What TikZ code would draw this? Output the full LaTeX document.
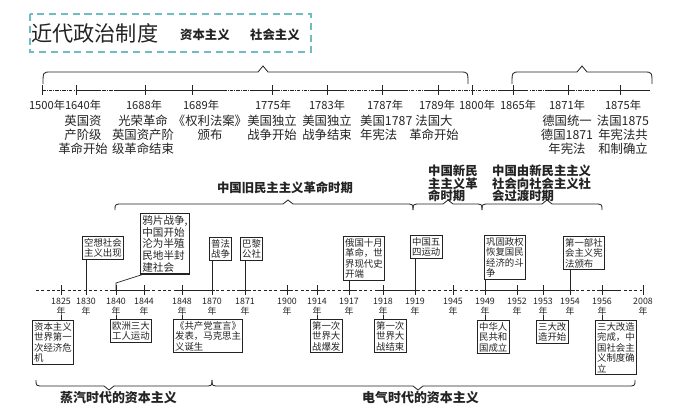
\documentclass[tikz,border=0pt]{standalone}
\usepackage{fontspec}
\setmainfont{Noto Sans CJK SC}
\definecolor{boxteal}{RGB}{112,188,194}
\definecolor{ink}{RGB}{35,35,35}
% brace: x1, xpeak, x2, y, y of ends, y of peak
\newcommand{\drawbrace}[6]{%
  \draw[line width=0.7pt, ink] (#1,#5) .. controls (#1,#4) .. (#1+8,#4) -- (#2-5,#4) -- (#2,#6) -- (#2+5,#4) -- (#3-8,#4) .. controls (#3,#4) .. (#3,#5);}

\begin{document}
\begin{tikzpicture}[x=0.85pt, y=-0.85pt,
    topyr/.style={inner sep=0pt, font=\fontsize{9.5}{10}\selectfont, ink},
    evtext/.style={inner sep=0pt, align=center, font=\fontsize{10.5}{12}\selectfont, ink},
    lowyr/.style={inner sep=0pt, align=center, font=\fontsize{7.5}{8}\selectfont, ink},
    evbox/.style={draw=ink, line width=0.6pt, inner sep=1.5pt, align=left, font=\fontsize{8}{9}\selectfont, ink},
    period/.style={inner sep=0pt, align=left, font=\fontsize{10.5}{10.5}\selectfont\bfseries, ink},
    link/.style={line width=0.6pt, ink}]
    \useasboundingbox (0,0) rectangle (690,419);

    % Title block
    \draw[boxteal, line width=1.2pt, dash pattern=on 6pt off 4pt] (30,14) rectangle (311,52);
    \node[anchor=west, inner sep=0pt, font=\fontsize{18}{18}\selectfont, ink] (title) at (31,33) {近代政治制度};
    \node[anchor=west, inner sep=0pt, font=\fontsize{10.5}{10.5}\selectfont\bfseries, ink] (capital) at (180,35) {资本主义};
    \node[anchor=west, inner sep=0pt, font=\fontsize{10.5}{10.5}\selectfont\bfseries, ink] (social) at (250,35) {社会主义};

    % Top braces
    \drawbrace{43}{263}{468}{72}{84}{66}
    \drawbrace{512}{582}{652}{72}{84}{66}

    % Top time line
    \draw[line width=0.7pt, ink, densely dash dot] (42,90) -- (650,90);
    \foreach \a/\b in {76/100, 115/227, 253/280, 310/345, 375/405, 425/450, 500/525, 548/575, 600/650}
        \draw[line width=0.7pt, ink] (\a,90) -- (\b,90);
    \foreach \x/\lx/\n in {42/47/1500, 76/83/1640, 145/144/1688, 192/201/1689, 272/273/1775, 327/327/1783,
                           382/385/1787, 438/437/1789, 472/477/1800, 513/518/1865, 568/567/1871, 620/623/1875} {
        \coordinate (a\n) at (\x,90);
        \draw[line width=0.7pt, ink] (\x,85) -- (\x,95);
        \node[topyr] (ty\n) at (\lx,105) {{\n}年};
    }

    % Top events
    \node[evtext, anchor=north] (e1640) at (83,115) {英国资\\产阶级\\革命开始};
    \node[evtext, anchor=north] (e1688) at (143,115) {光荣革命\\英国资产阶\\级革命结束};
    \node[evtext, anchor=north] (e1689) at (210,115) {《权利法案》\\颁布};
    \node[evtext, anchor=north] (e1775) at (272,115) {美国独立\\战争开始};
    \node[evtext, anchor=north] (e1783) at (327,115) {美国独立\\战争结束};
    \node[evtext, anchor=north west, align=left] (e1787) at (360,115) {美国1787\\年宪法};
    \node[evtext, anchor=north] (e1789) at (434,115) {法国大\\革命开始};
    \node[evtext, anchor=north] (e1871) at (567,115) {德国统一\\德国1871\\年宪法};
    \node[evtext, anchor=north] (e1875) at (623,115) {法国1875\\年宪法共\\和制确立};

    % Periods of China
    \node[period] (p1) at (285,188) {中国旧民主主义革命时期};
    \node[period, anchor=north west] (p2) at (428,165) {中国新民\\主主义革\\命时期};
    \node[period, anchor=north west] (p3) at (492,165) {中国由新民主主义\\社会向社会主义社\\会过渡时期};
    \drawbrace{115}{288}{413}{204}{210}{200}
    \drawbrace{413}{448}{482}{204}{210}{200}
    \drawbrace{482}{547}{602}{204}{210}{200}

    % Lower time line
    \draw[line width=0.7pt, ink, dash pattern=on 2.5pt off 2pt] (36,290) -- (643,290);
    \foreach \a/\b in {110/150, 176/215, 240/250, 282/292, 312/322, 344/354, 376/420, 480/575, 597/620}
        \draw[line width=0.7pt, ink] (\a,290) -- (\b,290);
    \foreach \x/\n in {61/1825, 86/1830, 116/1840, 144/1844, 182/1848, 212/1870, 245/1871, 287/1900, 317/1914,
                       349/1917, 383/1918, 415/1919, 453/1945, 485/1949, 517/1952, 543/1953, 570/1954, 602/1956, 643/2008} {
        \coordinate (t\n) at (\x,290);
        \draw[line width=0.7pt, ink] (\x,285) -- (\x,295);
        \node[lowyr] (y\n) at (\x,306.5) {{\n}\\年};
    }

    % Events above the lower line
    \node[evbox, anchor=north west] (u1830) at (82,236) {空想社会\\主义出现};
    \node[evbox, anchor=north west, line width=1pt, font=\fontsize{9}{10}\selectfont] (u1840) at (140,213) {鸦片战争,\\中国开始\\沦为半殖\\民地半封\\建社会};
    \node[evbox, anchor=north west] (u1870) at (209,237) {普法\\战争};
    \node[evbox, anchor=north west] (u1871) at (240,237) {巴黎\\公社};
    \node[evbox, anchor=north west] (u1917) at (343,236) {俄国十月\\革命，世\\界现代史\\开端};
    \node[evbox, anchor=north west] (u1919) at (410,235) {中国五\\四运动};
    \node[evbox, anchor=north west] (u1949) at (484,235) {巩固政权\\恢复国民\\经济的斗\\争};
    \node[evbox, anchor=north west] (u1954) at (563,236) {第一部社\\会主义宪\\法颁布};

    \coordinate (k1840) at (116,283);
    \draw[link] ([xshift=2pt]u1840.south west) -- (k1840) -- (t1840);
    \foreach \n in {1830, 1870, 1871, 1917, 1919, 1949, 1954}
        \draw[link] (t\n |- u\n.south) -- (t\n);

    % Events below the lower line
    \node[evbox, anchor=north west] (b1825) at (32,320) {资本主义\\世界第一\\次经济危\\机};
    \node[evbox, anchor=north west] (b1840) at (110,319) {欧洲三大\\工人运动};
    \node[evbox, anchor=north west] (b1848) at (173,319) {《共产党宣言》\\发表，马克思主\\义诞生};
    \node[evbox, anchor=north west] (b1914) at (310,319) {第一次\\世界大\\战爆发};
    \node[evbox, anchor=north west] (b1918) at (374,319) {第一次\\世界大\\战结束};
    \node[evbox, anchor=north west] (b1949) at (477,320) {中华人\\民共和\\国成立};
    \node[evbox, anchor=north west] (b1953) at (536,320) {三大改\\造开始};
    \node[evbox, anchor=north west] (b1956) at (595,320) {三大改造\\完成，中\\国社会主\\义制度确\\立};

    \foreach \n in {1825, 1840, 1848, 1914, 1918, 1949, 1953, 1956}
        \draw[link] (y\n.south) -- (y\n.south |- b\n.north);

    % Bottom braces
    \drawbrace{36}{109}{212}{386}{380}{390}
    \drawbrace{212}{418}{635}{386}{380}{390}
    \node[period, anchor=west, font=\fontsize{11}{11}\selectfont\bfseries] (steam) at (60,398) {蒸汽时代的资本主义};
    \node[period, anchor=west, font=\fontsize{11}{11}\selectfont\bfseries] (electric) at (362,398) {电气时代的资本主义};
\end{tikzpicture}
\end{document}
